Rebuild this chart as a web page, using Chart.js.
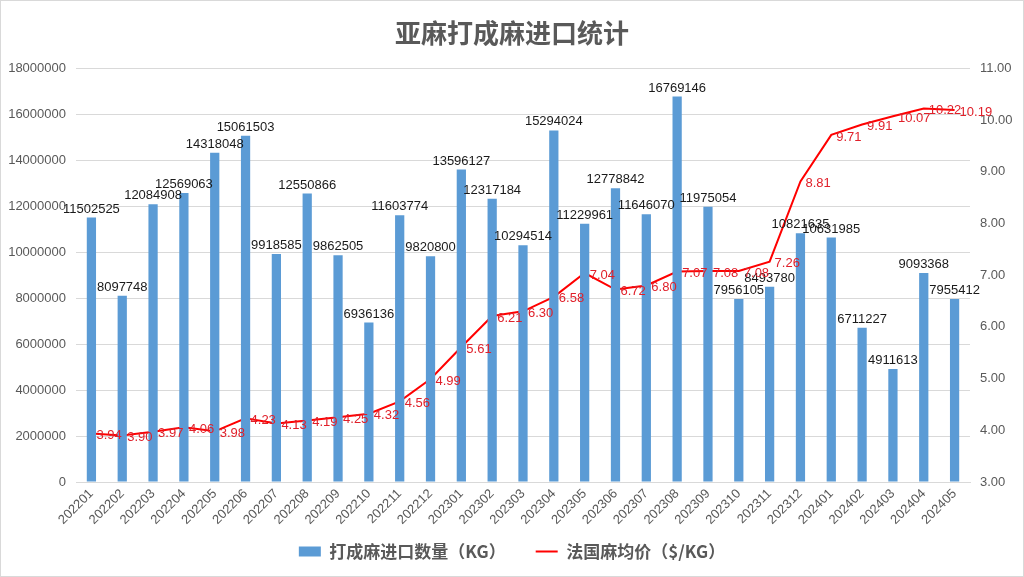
<!DOCTYPE html>
<html>
<head>
<meta charset="utf-8">
<script src="https://cdn.jsdelivr.net/npm/chart.js@4/dist/chart.umd.min.js"></script>
<style>
  body { margin: 0; background: #fff; }
  #wrap { position: absolute; left: 0; top: 0; width: 1024px; height: 577px; box-sizing: border-box; border: 1px solid #d9d9d9; }
</style>
</head>
<body>
<div id="wrap"><canvas id="c" width="1022" height="575"></canvas></div>
<script>
const months = ['202201','202202','202203','202204','202205','202206','202207','202208','202209','202210','202211','202212',
  '202301','202302','202303','202304','202305','202306','202307','202308','202309','202310','202311','202312',
  '202401','202402','202403','202404','202405'];
const importKg = [11502525, 8097748, 12084908, 12569063, 14318048, 15061503, 9918585, 12550866, 9862505, 6936136, 11603774, 9820800,
  13596127, 12317184, 10294514, 15294024, 11229961, 12778842, 11646070, 16769146, 11975054, 7956105, 8493780, 10821635,
  10631985, 6711227, 4911613, 9093368, 7955412];
const avgPrice = [3.94, 3.90, 3.97, 4.06, 3.98, 4.23, 4.13, 4.19, 4.25, 4.32, 4.56, 4.99,
  5.61, 6.21, 6.30, 6.58, 7.04, 6.72, 6.80, 7.07, 7.08, 7.08, 7.26, 8.81,
  9.71, 9.91, 10.07, 10.22, 10.19];
const leftTicks = [0, 2000000, 4000000, 6000000, 8000000, 10000000, 12000000, 14000000, 16000000, 18000000];
const rightTicks = [3, 4, 5, 6, 7, 8, 9, 10, 11];

const grey = '#595959';
const font = 'Liberation Sans, Arial, sans-serif';
const cjk = '"Noto Sans CJK SC", sans-serif';

// value labels (no datalabels plugin offline)
const valueLabels = {
  id: 'valueLabels',
  afterDatasetsDraw(chart) {
    const ctx = chart.ctx;
    ctx.save();
    ctx.font = '13px ' + font;
    chart.getDatasetMeta(0).data.forEach(function(el, i) {
      ctx.fillStyle = '#1a1a1a';
      ctx.textAlign = 'center';
      ctx.textBaseline = 'bottom';
      ctx.fillText(String(importKg[i]), el.x, el.y - 2);
    });
    chart.getDatasetMeta(1).data.forEach(function(el, i) {
      ctx.fillStyle = '#e0202a';
      ctx.textAlign = 'left';
      ctx.textBaseline = 'middle';
      ctx.fillText(avgPrice[i].toFixed(2), el.x + 5, el.y + 2);
    });
    ctx.restore();
  }
};

new Chart(document.getElementById('c'), {
  data: {
    labels: months,
    datasets: [{
      type: 'bar',
      label: '打成麻进口数量（KG）',
      data: importKg,
      backgroundColor: '#5b9bd5',
      yAxisID: 'y',
      barPercentage: 0.3,
      categoryPercentage: 1,
      pointStyle: 'rect'
    }, {
      type: 'line',
      label: '法国麻均价（$/KG）',
      data: avgPrice,
      borderColor: '#ff0000',
      backgroundColor: '#ff0000',
      borderWidth: 2,
      pointRadius: 0,
      tension: 0,
      yAxisID: 'y1',
      pointStyle: 'line'
    }]
  },
  options: {
    responsive: false,
    animation: false,
    layout: { padding: { left: 0, right: 0, top: 0, bottom: 6 } },
    plugins: {
      title: {
        display: true,
        text: '亚麻打成麻进口统计',
        color: grey,
        font: { family: cjk, size: 26, weight: 'bold' },
        padding: { top: 17, bottom: 19 }
      },
      legend: {
        position: 'bottom',
        labels: {
          color: grey,
          font: { family: cjk, size: 17, weight: 'bold' },
          usePointStyle: true,
          pointStyleWidth: 22,
          boxHeight: 10,
          padding: 30,
          sort: (a, b) => a.datasetIndex - b.datasetIndex
        }
      },
      tooltip: { enabled: false }
    },
    scales: {
      x: {
        afterFit: (s) => {
          s.height = 31;
          // let the rotated labels run past the axis box instead of being clipped
          s._computeLabelArea = () => undefined;
        },
        grid: { display: false, drawTicks: false },
        border: { display: true, color: '#d9d9d9' },
        ticks: { color: grey, font: { family: font, size: 13 }, autoSkip: false, maxRotation: 45, minRotation: 45, padding: 4 }
      },
      y: {
        position: 'left',
        min: 0,
        max: 18000000,
        afterBuildTicks: (s) => { s.ticks = leftTicks.map(v => ({ value: v })); },
        afterFit: (s) => { s.width = 75; },
        grid: { color: '#d9d9d9', drawTicks: false },
        border: { display: false },
        ticks: { color: grey, font: { family: font, size: 13 }, padding: 10, callback: (v) => String(v) }
      },
      y1: {
        position: 'right',
        min: 3,
        max: 11,
        afterBuildTicks: (s) => { s.ticks = rightTicks.map(v => ({ value: v })); },
        afterFit: (s) => { s.width = 53; },
        grid: { display: false, drawTicks: false },
        border: { display: false },
        ticks: { color: grey, font: { family: font, size: 13 }, padding: 10, callback: (v) => Number(v).toFixed(2) }
      }
    }
  },
  plugins: [valueLabels]
});
</script>
</body>
</html>
